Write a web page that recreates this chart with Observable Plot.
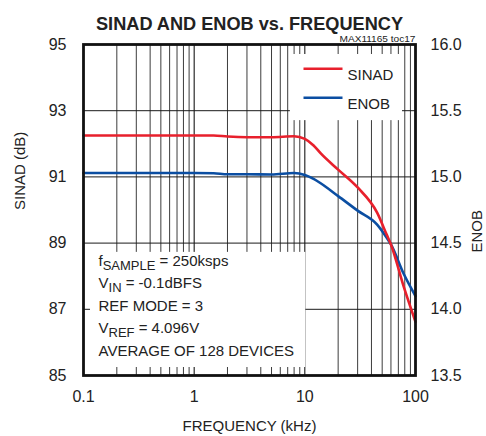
<!DOCTYPE html>
<html>
<head>
<meta charset="utf-8">
<script src="https://cdn.jsdelivr.net/npm/d3@7"></script>
<script src="https://cdn.jsdelivr.net/npm/@observablehq/plot@0.6"></script>
<style>
  html, body { margin: 0; padding: 0; background: #fff; }
  #chart { width: 486px; height: 436px; }
</style>
</head>
<body>
<div id="chart"></div>
<script>
// ---- data ----
const freqKHz = [0.1, 0.2, 0.5, 1, 1.5, 2, 3, 5, 8, 10, 12, 14, 20, 30, 45, 55, 60, 78, 100];
const sinadDb = [92.25, 92.25, 92.25, 92.25, 92.25, 92.22, 92.2, 92.2, 92.23, 92.15, 91.95, 91.7, 91.22, 90.68, 89.92, 89.25, 88.96, 87.7, 86.62];
const enobBits = [15.03, 15.03, 15.03, 15.03, 15.028, 15.02, 15.02, 15.018, 15.03, 15.015, 14.985, 14.95, 14.855, 14.745, 14.64, 14.54, 14.49, 14.27, 14.1];

const xMajor = [0.1, 1, 10, 100];
const xMinor = [0.2,0.3,0.4,0.5,0.6,0.7,0.8,0.9, 2,3,4,5,6,7,8,9, 20,30,40,50,60,70,80,90];
const sinadTicks = [85, 87, 89, 91, 93, 95];
const enobTicks = [13.5, 14.0, 14.5, 15.0, 15.5, 16.0];
const gridDb = [87, 89, 91, 93];

const seriesNames = ["SINAD", "ENOB"];
const seriesColors = ["#e8202c", "#0b4ea2"];

const titleText = "SINAD AND ENOB vs. FREQUENCY";
const docId = "MAX11165 toc17";
const xLabel = "FREQUENCY (kHz)";
const yLabelLeft = "SINAD (dB)";
const yLabelRight = "ENOB";

// conditions: [main, subscript, rest]
const annoLines = [
  ["f", "SAMPLE", " = 250ksps"],
  ["V", "IN", " = -0.1dBFS"],
  ["REF MODE = 3", "", ""],
  ["V", "REF", " = 4.096V"],
  ["AVERAGE OF 128 DEVICES", "", ""]
];

// white boxes behind legend and conditions (data units)
const legendBox = [{f1: 7.4, f2: 100, d1: 92.7, d2: 95}];
const annoBox = [{f1: 0.1, f2: 10.2, d1: 85, d2: 88.72}];

// ENOB (right axis) -> SINAD axis units: 13.5..16 maps onto 85..95
const enobToDb = e => 85 + (e - 13.5) * 4;

const sinad = freqKHz.map((f, i) => ({f, v: sinadDb[i]}));
const enob = freqKHz.map((f, i) => ({f, v: enobToDb(enobBits[i])}));

const swatch = {draw(ctx) { ctx.moveTo(-19.5, 0); ctx.lineTo(19.5, 0); }};

const plot = Plot.plot({
  width: 486,
  height: 436,
  marginLeft: 83,
  marginRight: 71,
  marginTop: 44,
  marginBottom: 61,
  style: {fontFamily: "'Liberation Sans', Arial, sans-serif", fontSize: "15px", color: "#222", background: "#fff"},
  x: {type: "log", domain: [0.1, 100], axis: null},
  y: {domain: [85, 95], axis: null},
  marks: [
    Plot.ruleX(xMinor, {stroke: "#3c3c3c", strokeWidth: 1}),
    Plot.ruleX(xMajor, {stroke: "#000", strokeWidth: 1}),
    Plot.ruleY(gridDb, {stroke: "#1a1a1a", strokeWidth: 1}),
    Plot.rect(legendBox, {x1: "f1", x2: "f2", y1: "d1", y2: "d2", fill: "#fff", insetTop: 10, insetRight: 13}),
    Plot.rect(annoBox, {x1: "f1", x2: "f2", y1: "d1", y2: "d2", fill: "#fff", insetLeft: 7, insetBottom: 8}),
    Plot.line(enob, {x: "f", y: "v", stroke: seriesColors[1], strokeWidth: 2.6, curve: "monotone-x"}),
    Plot.line(sinad, {x: "f", y: "v", stroke: seriesColors[0], strokeWidth: 2.6, curve: "monotone-x"}),
    // axes
    Plot.axisX(xMajor, {anchor: "bottom", tickSize: 0, tickPadding: 15, tickFormat: d => String(d), fontSize: 16, label: null}),
    Plot.axisY(sinadTicks, {anchor: "left", tickSize: 0, tickPadding: 17, tickFormat: d => String(d), fontSize: 16, label: null}),
    Plot.axisY(enobTicks.map(enobToDb), {anchor: "right", tickSize: 0, tickPadding: 15, tickFormat: (d, i) => enobTicks[i].toFixed(1), fontSize: 16, label: null}),
    Plot.text([xLabel], {frameAnchor: "bottom", dy: 51, fontSize: 15, lineAnchor: "middle"}),
    Plot.text([yLabelLeft], {frameAnchor: "left", dx: -63, rotate: -90, fontSize: 15}),
    Plot.text([yLabelRight], {frameAnchor: "right", dx: 62, rotate: -90, fontSize: 15}),
    Plot.text([titleText], {frameAnchor: "top", dy: -27.5, fontSize: 18, fontWeight: "bold", fill: "#222", className: "ttl"}),
    Plot.text([docId], {frameAnchor: "top-right", dx: 0, dy: -9.5, fontSize: 9.5, textAnchor: "end", className: "docid"}),
    // legend
    Plot.dot(seriesNames, {frameAnchor: "top-right", dx: -92.5, dy: 24.3, symbol: swatch, fill: "none", stroke: seriesColors[0], strokeWidth: 2.6, filter: (d, i) => i === 0}),
    Plot.dot(seriesNames, {frameAnchor: "top-right", dx: -92.5, dy: 53.3, symbol: swatch, fill: "none", stroke: seriesColors[1], strokeWidth: 2.6, filter: (d, i) => i === 1}),
    Plot.text([seriesNames[0]], {frameAnchor: "top-right", dx: -68, dy: 24.5, textAnchor: "start", fontSize: 15}),
    Plot.text([seriesNames[1]], {frameAnchor: "top-right", dx: -68, dy: 53.5, textAnchor: "start", fontSize: 15}),
    // conditions
    ...annoLines.map((d, i) => Plot.text([d.join("")], {frameAnchor: "bottom-left", dx: 15, dy: -(110 - i * 22.5), textAnchor: "start", fontSize: 15, className: "anno" + i})),
    Plot.frame({stroke: "#111", strokeWidth: 2.8})
  ]
});

document.getElementById("chart").appendChild(plot);

// subscripts in the conditions text
const svg = d3.select(plot);
annoLines.forEach((d, i) => {
  if (!d[1]) return;
  const t = svg.select("g.anno" + i + " text");
  t.text(null);
  t.append("tspan").text(d[0]);
  t.append("tspan").attr("dy", 4).attr("font-size", 13).text(d[1]);
  t.append("tspan").attr("dy", -4).attr("font-size", 15).text(d[2]);
});
// condensed title and document id
svg.select("g.ttl text").attr("textLength", 307).attr("lengthAdjust", "spacingAndGlyphs");
svg.select("g.docid text").attr("textLength", 76).attr("lengthAdjust", "spacingAndGlyphs");
</script>
</body>
</html>
